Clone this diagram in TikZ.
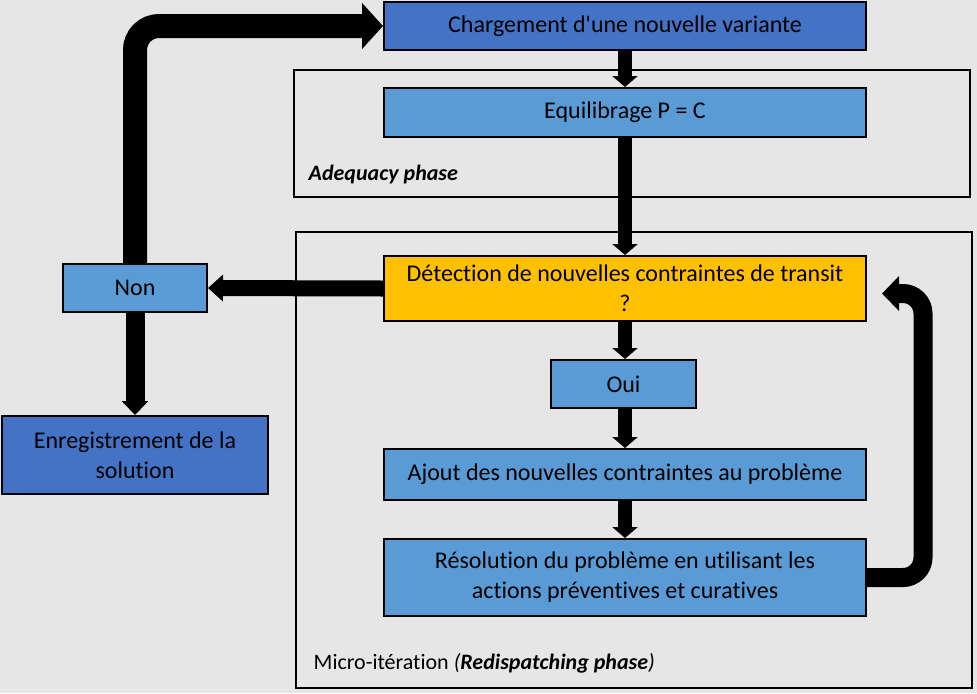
\documentclass[tikz,border=0pt]{standalone}
\usepackage{fontspec}
\setmainfont{Carlito}[Ligatures={NoCommon}]
\usepackage{tikz}
\usetikzlibrary{arrows.meta, positioning, calc}

\definecolor{bggray}{HTML}{E6E6E6}
\definecolor{darkblue}{HTML}{4472C4}
\definecolor{lightblue}{HTML}{5B9BD5}
\definecolor{gold}{HTML}{FFC000}
\newdimen\px
\px=0.75pt

\begin{document}
\begin{tikzpicture}[
  x=0.75pt, y=-0.75pt,
  box/.style={rectangle, draw, line width=2\px, minimum width=482\px, align=center, fill=lightblue, font=\fontsize{18}{22.5}\selectfont, inner sep=0pt},
  frame/.style={draw, line width=2\px},
  flow/.style={line width=14\px, -{Triangle[width=18.75pt, length=8.25pt]}},
  bigflow/.style={line width=24\px, rounded corners=24\px, -{Triangle[width=33.75pt, length=15.75pt]}},
  loopflow/.style={line width=19\px, rounded corners=20\px, shorten >=15\px, -{Triangle[width=25.5pt, length=12.75pt]}}
]
  \fill[bggray] (0,0) rectangle (977,693);

  % frames
  \draw[frame] (294,70) rectangle (970,197);
  \draw[frame] (296,232) rectangle (972,688);
  \node[anchor=base west, font=\fontsize{16.5}{20}\selectfont\bfseries\itshape] (adeq) at (304,180) {Adequacy phase};
  \node[anchor=base west, font=\fontsize{16.5}{20}\selectfont] (micro) at (309,669) {Micro-itération \textit{(\textbf{Redispatching phase})}};

  \node[box, fill=darkblue, minimum height=48\px] (load) at (625,26) {Chargement d\textquotesingle une nouvelle variante};
  \node[box, minimum height=49\px] (equil) at (625,112.5) {Equilibrage P = C};
  \node[box, fill=gold, minimum height=65\px] (detect) at (625,288.5) {Détection de nouvelles contraintes de transit\\?};
  \node[box, minimum width=145\px, minimum height=48\px] (oui) at (623.5,384) {Oui};
  \node[box, minimum height=51\px] (ajout) at (625,474.5) {Ajout des nouvelles contraintes au problème};
  \node[box, minimum height=77\px] (resol) at (625,577.5) {Résolution du problème en utilisant les\\actions préventives et curatives};

  \node[box, minimum width=144\px, minimum height=48\px] (non) at (135,288) {Non};
  \node[box, fill=darkblue, minimum width=266\px, minimum height=78\px] (enreg) at (135,455) {Enregistrement de la\\solution};

  \coordinate (loop) at ($(detect.east)+(56,5)$);

  \draw[flow] (load) -- (equil);
  \draw[flow] (equil) -- (detect);
  \draw[flow] (detect.south) -- (detect.south |- oui.north);
  \draw[flow] (oui.south -| detect.south) -- (ajout.north);
  \draw[flow] (ajout) -- (resol);
  \draw[flow, line width=16\px, -{Triangle[width=19.5pt, length=11.25pt]}] (detect.west) -- (non.east);
  \draw[flow, line width=19\px, -{Triangle[width=19.5pt, length=10.5pt]}] (non) -- (enreg);
  \draw[bigflow] (non.north) |- (load.west);
  \draw[loopflow] (resol.east) -| (loop) -- (detect.east |- loop);
\end{tikzpicture}
\end{document}
